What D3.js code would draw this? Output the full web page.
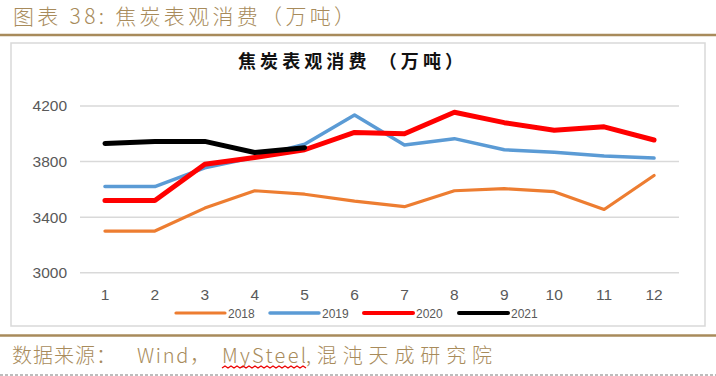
<!DOCTYPE html>
<html>
<head>
<meta charset="utf-8">
<script src="https://cdn.jsdelivr.net/npm/d3@7"></script>
<style>
  body { margin: 0; background: #fff; }
  svg { display: block; }
</style>
</head>
<body>
<div id="chart"></div>
<script>
// chart data
const months = ['1', '2', '3', '4', '5', '6', '7', '8', '9', '10', '11', '12'];
const yTicks = [3000, 3400, 3800, 4200];
const seriesNames = ['2018', '2019', '2020', '2021'];
const v2018 = [3300, 3300, 3465, 3590, 3565, 3515, 3475, 3590, 3605, 3583, 3455, 3700];
const v2019 = [3620, 3620, 3755, 3830, 3925, 4135, 3920, 3965, 3885, 3867, 3840, 3825];
const v2020 = [3520, 3520, 3780, 3830, 3885, 4010, 4000, 4155, 4080, 4025, 4050, 3955];
const v2021 = [3930, 3945, 3945, 3865, 3900];

const colors = ['#ED7D31', '#5B9BD5', '#FF0000', '#000000'];
const widths = [3.2, 3.5, 5, 5];
const gold = '#A88B5B';

const W = 716, H = 376;
const svg = d3.select('#chart').append('svg').attr('width', W).attr('height', H);
svg.append('rect').attr('width', W).attr('height', H).attr('fill', '#fff');

// header
svg.append('text')
  .attr('x', 13).attr('y', 24)
  .attr('textLength', 342).attr('lengthAdjust', 'spacing')
  .style('font-family', '"Noto Sans CJK SC", sans-serif')
  .style('font-weight', 300)
  .style('font-size', '21px')
  .attr('fill', gold)
  .text('图表 38:  焦炭表观消费（万吨）');
svg.append('line').attr('x1', 0).attr('x2', W).attr('y1', 35).attr('y2', 35)
  .attr('stroke', gold).attr('stroke-width', 2.5);

// chart frame
svg.append('rect').attr('x', 11).attr('y', 43).attr('width', 694).attr('height', 283)
  .attr('fill', 'none').attr('stroke', '#d9d9d9').attr('stroke-width', 1.5);

svg.append('text')
  .attr('x', 238).attr('y', 68)
  .attr('textLength', 225).attr('lengthAdjust', 'spacing')
  .style('font-family', '"Noto Sans CJK SC", sans-serif')
  .style('font-weight', 700)
  .style('font-size', '18px')
  .attr('fill', '#111')
  .text('焦炭表观消费 （万吨）');

const x = d3.scaleBand().domain(months).range([80, 679]);
const y = d3.scaleLinear().domain([3000, 4200]).range([272.7, 106]);

// grid
svg.append('g').selectAll('line').data(yTicks).join('line')
  .attr('x1', 80).attr('x2', 679)
  .attr('y1', d => y(d)).attr('y2', d => y(d))
  .attr('stroke', '#d9d9d9').attr('stroke-width', 1.5);

const yAxis = svg.append('g').attr('transform', 'translate(80,0)')
  .call(d3.axisLeft(y).tickValues(yTicks).tickFormat(d3.format('d')).tickSize(0).tickPadding(13));
yAxis.select('.domain').remove();
yAxis.selectAll('text')
  .style('font-family', '"Liberation Sans", Arial, sans-serif')
  .style('font-size', '15.5px').attr('fill', '#595959');

const xAxis = svg.append('g').attr('transform', 'translate(0,283)')
  .call(d3.axisBottom(x).tickSize(0).tickPadding(6));
xAxis.select('.domain').remove();
xAxis.selectAll('text')
  .style('font-family', '"Liberation Sans", Arial, sans-serif')
  .style('font-size', '15.5px').attr('fill', '#595959');

// lines
const allSeries = [v2018, v2019, v2020, v2021];
const line = d3.line()
  .x((d, i) => x(months[i]) + x.bandwidth() / 2)
  .y(d => y(d));

svg.append('g').selectAll('path').data(allSeries).join('path')
  .attr('d', d => line(d))
  .attr('fill', 'none')
  .attr('stroke', (d, i) => colors[i])
  .attr('stroke-width', (d, i) => widths[i])
  .attr('stroke-linejoin', 'round')
  .attr('stroke-linecap', 'round');

// legend
const legendX = [175, 269, 363, 458];
const lg = svg.append('g').selectAll('g').data(seriesNames).join('g')
  .attr('transform', (d, i) => `translate(${legendX[i]},313)`);
lg.append('line').attr('x1', 1).attr('x2', 50)
  .attr('stroke', (d, i) => colors[i])
  .attr('stroke-width', (d, i) => Math.min(widths[i], 4))
  .attr('stroke-linecap', 'round');
lg.append('text').attr('x', 53).attr('y', 4.5)
  .style('font-family', '"Liberation Sans", Arial, sans-serif')
  .style('font-size', '12px').attr('fill', '#595959')
  .text(d => d);

// footer
svg.append('line').attr('x1', 0).attr('x2', W).attr('y1', 335.5).attr('y2', 335.5)
  .attr('stroke', gold).attr('stroke-width', 2.5);

const src = [
  { t: '数据来源：', x0: 12, x1: 116 },
  { t: 'Wind，', x0: 137, x1: 210 },
  { t: 'MySteel', x0: 222, x1: 306 },
  { t: ',混沌天成研究院', x0: 306, x1: 492 }
];
svg.append('g').selectAll('text').data(src).join('text')
  .attr('x', d => d.x0).attr('y', 363)
  .attr('textLength', d => d.x1 - d.x0).attr('lengthAdjust', 'spacing')
  .style('font-family', '"Noto Sans CJK SC", sans-serif')
  .style('font-weight', 300)
  .style('font-size', '20px')
  .attr('fill', gold)
  .text(d => d.t);

// spell-check wavy underline under MySteel
const wave = d3.path();
wave.moveTo(222, 368);
for (let xx = 222, k = 0; xx < 306; xx += 3, k++) {
  wave.lineTo(xx + 3, k % 2 ? 368 : 366);
}
svg.append('path').attr('d', wave.toString()).attr('fill', 'none')
  .attr('stroke', '#e00').attr('stroke-width', 1.3);

svg.append('line').attr('x1', 0).attr('x2', W).attr('y1', 375).attr('y2', 375)
  .attr('stroke', '#bdbdbd').attr('stroke-width', 2).attr('stroke-dasharray', '3,2');
</script>
</body>
</html>
